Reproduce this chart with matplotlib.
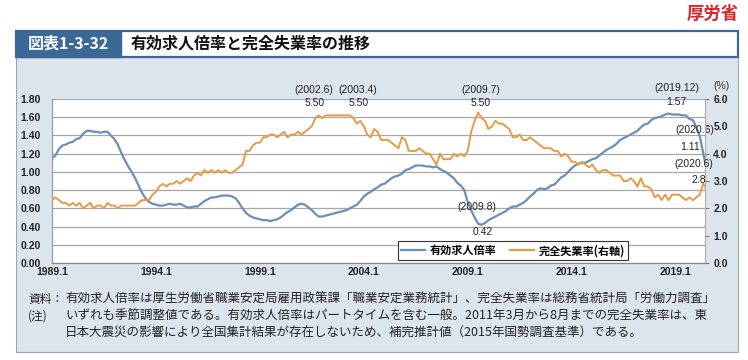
import matplotlib
matplotlib.use("Agg")
import matplotlib.pyplot as plt
from matplotlib.patches import Rectangle
from matplotlib.lines import Line2D
import numpy as np

JP = ['Noto Sans CJK JP', 'DejaVu Sans']
NUM = ['Liberation Sans', 'DejaVu Sans']

# ---------------- data (bi-monthly: Jan, Mar, May, Jul, Sep, Nov; 2020: Jan, Mar, May, Jun) ----
start_year = 1989
month_index = [i * 2 for i in range(187)] + [374, 376, 377]   # months since 1989.1

job_ratio = [
    1.15, 1.18, 1.25, 1.29, 1.30, 1.32,   # 1989
    1.33, 1.36, 1.37, 1.42, 1.45, 1.45,   # 1990
    1.44, 1.44, 1.43, 1.44, 1.44, 1.40,   # 1991
    1.36, 1.30, 1.21, 1.13, 1.06, 1.00,   # 1992
    0.93, 0.85, 0.77, 0.71, 0.67, 0.65,   # 1993
    0.64, 0.63, 0.63, 0.64, 0.65, 0.64,   # 1994
    0.64, 0.65, 0.63, 0.61, 0.61, 0.62,   # 1995
    0.62, 0.65, 0.68, 0.70, 0.72, 0.72,   # 1996
    0.73, 0.74, 0.74, 0.74, 0.73, 0.71,   # 1997
    0.66, 0.60, 0.55, 0.52, 0.50, 0.49,   # 1998
    0.48, 0.47, 0.47, 0.46, 0.47, 0.48,   # 1999
    0.50, 0.53, 0.56, 0.58, 0.61, 0.64,   # 2000
    0.65, 0.64, 0.61, 0.58, 0.54, 0.51,   # 2001
    0.51, 0.52, 0.53, 0.54, 0.55, 0.56,   # 2002
    0.57, 0.58, 0.60, 0.62, 0.64, 0.68,   # 2003
    0.73, 0.76, 0.78, 0.81, 0.83, 0.86,   # 2004
    0.87, 0.90, 0.93, 0.95, 0.96, 0.98,   # 2005
    1.02, 1.03, 1.05, 1.07, 1.07, 1.07,   # 2006
    1.06, 1.06, 1.05, 1.06, 1.03, 1.01,   # 2007
    0.99, 0.96, 0.93, 0.88, 0.85, 0.80,   # 2008
    0.67, 0.58, 0.50, 0.43, 0.42, 0.44,   # 2009
    0.47, 0.49, 0.51, 0.53, 0.55, 0.57,   # 2010
    0.60, 0.62, 0.62, 0.64, 0.66, 0.69,   # 2011
    0.73, 0.76, 0.80, 0.82, 0.81, 0.82,   # 2012
    0.85, 0.86, 0.90, 0.94, 0.96, 1.00,   # 2013
    1.04, 1.07, 1.09, 1.10, 1.10, 1.12,   # 2014
    1.14, 1.15, 1.18, 1.21, 1.24, 1.26,   # 2015
    1.28, 1.31, 1.35, 1.37, 1.39, 1.41,   # 2016
    1.43, 1.45, 1.49, 1.52, 1.53, 1.57,   # 2017
    1.59, 1.60, 1.61, 1.63, 1.64, 1.63,   # 2018
    1.63, 1.63, 1.62, 1.62, 1.58, 1.57,   # 2019
    1.49, 1.39, 1.20, 1.11,               # 2020
]

unemployment = [
    2.3, 2.4, 2.3, 2.2, 2.2, 2.1,   # 1989
    2.2, 2.1, 2.2, 2.0, 2.1, 2.2,   # 1990
    2.0, 2.1, 2.1, 2.0, 2.2, 2.1,   # 1991
    2.1, 2.0, 2.1, 2.1, 2.1, 2.1,   # 1992
    2.1, 2.2, 2.3, 2.3, 2.3, 2.5,   # 1993
    2.6, 2.8, 2.9, 2.8, 2.9, 2.9,   # 1994
    3.0, 2.9, 3.0, 3.1, 3.0, 3.2,   # 1995
    3.3, 3.2, 3.4, 3.3, 3.4, 3.3,   # 1996
    3.4, 3.3, 3.4, 3.3, 3.3, 3.4,   # 1997
    3.5, 3.6, 4.1, 4.1, 4.3, 4.4,   # 1998
    4.4, 4.6, 4.6, 4.7, 4.7, 4.6,   # 1999
    4.7, 4.8, 4.6, 4.7, 4.7, 4.8,   # 2000
    4.7, 4.8, 4.9, 5.0, 5.3, 5.4,   # 2001
    5.3, 5.4, 5.4, 5.4, 5.4, 5.4,   # 2002
    5.4, 5.4, 5.4, 5.3, 5.1, 5.2,   # 2003
    5.0, 4.7, 4.6, 4.9, 4.8, 4.5,   # 2004
    4.5, 4.5, 4.4, 4.3, 4.2, 4.6,   # 2005
    4.5, 4.1, 4.1, 4.1, 4.2, 4.1,   # 2006
    4.0, 4.0, 3.8, 3.6, 4.0, 3.8,   # 2007
    3.8, 3.8, 4.0, 3.9, 4.0, 3.9,   # 2008
    4.1, 4.8, 5.2, 5.5, 5.3, 5.2,   # 2009
    4.9, 5.0, 5.2, 5.1, 5.1, 5.0,   # 2010
    4.9, 4.6, 4.6, 4.7, 4.5, 4.5,   # 2011
    4.6, 4.5, 4.4, 4.3, 4.2, 4.2,   # 2012
    4.2, 4.1, 4.1, 3.9, 4.0, 3.9,   # 2013
    3.7, 3.7, 3.6, 3.7, 3.6, 3.5,   # 2014
    3.6, 3.4, 3.3, 3.4, 3.4, 3.3,   # 2015
    3.2, 3.2, 3.2, 3.0, 3.0, 3.1,   # 2016
    3.0, 2.8, 3.1, 2.8, 2.8, 2.7,   # 2017
    2.4, 2.5, 2.3, 2.5, 2.3, 2.5,   # 2018
    2.5, 2.5, 2.4, 2.3, 2.4, 2.3,   # 2019
    2.4, 2.5, 2.9, 2.8,             # 2020
]

x_tick_labels = ["1989.1", "1994.1", "1999.1", "2004.1", "2009.1", "2014.1", "2019.1"]
left_ticks = [0.0, 0.2, 0.4, 0.6, 0.8, 1.0, 1.2, 1.4, 1.6, 1.8]
right_ticks = [0.0, 1.0, 2.0, 3.0, 4.0, 5.0, 6.0]

# annotations: (year, month, value, date label, value label, axis)
annotations = [
    (2002, 6, 5.5, "(2002.6)", "5.50", "right"),
    (2003, 4, 5.5, "(2003.4)", "5.50", "right"),
    (2009, 7, 5.5, "(2009.7)", "5.50", "right"),
    (2009, 8, 0.42, "(2009.8)", "0.42", "left"),
    (2019, 12, 1.57, "(2019.12)", "1.57", "left"),
    (2020, 6, 1.11, "(2020.6)", "1.11", "left"),
    (2020, 6, 2.8, "(2020.6)", "2.8", "right"),
]
# pixel offsets (date label, value label) for each annotation
ann_offsets = [
    ((-17, 18), (-16, 5)),
    ((10, 18), (10, 5)),
    ((3, 18), (3, 5)),
    ((-3, 13), (3, -2)),
    ((-18, 27), (-18, 13)),
    ((-10, 27), (-15, 10)),
    ((-11, 17), (-6, 1)),
]

title_label = "図表1-3-32"
title_text = "有効求人倍率と完全失業率の推移"
source_tag = "厚労省"
series_names = ["有効求人倍率", "完全失業率(右軸)"]
notes = [
    ("資料：", "有効求人倍率は厚生労働省職業安定局雇用政策課「職業安定業務統計」、完全失業率は総務省統計局「労働力調査」"),
    ("(注)", "いずれも季節調整値である。有効求人倍率はパートタイムを含む一般。2011年3月から8月までの完全失業率は、東"),
    ("", "日本大震災の影響により全国集計結果が存在しないため、補完推計値（2015年国勢調査基準）である。"),
]

BLUE = "#6a8fb8"
ORANGE = "#e89a45"
PANEL = "#dce4ed"
DARK = "#3c6898"

W, H = 748, 360
fig = plt.figure(figsize=(W / 100, H / 100), dpi=100)
fig.patch.set_facecolor("white")


def fx(px):
    return px / W


def fy(py):
    return 1 - py / H


# panel background
fig.patches.append(Rectangle((fx(16), fy(352)), fx(738) - fx(16), fy(57) - fy(352),
                             transform=fig.transFigure, facecolor=PANEL,
                             edgecolor="#9aa6b4", lw=0.8, zorder=0))
# title bar
fig.patches.append(Rectangle((fx(16), fy(57)), fx(738) - fx(16), fy(31) - fy(57),
                             transform=fig.transFigure, facecolor="white",
                             edgecolor=DARK, lw=1.6, zorder=1))
fig.patches.append(Rectangle((fx(16), fy(57)), fx(121) - fx(16), fy(31) - fy(57),
                             transform=fig.transFigure, facecolor=DARK,
                             edgecolor=DARK, lw=1.0, zorder=2))
fig.text(fx(68), fy(44), title_label, color="white", fontsize=11.5, fontweight="bold",
         family=JP, ha="center", va="center", zorder=3)
fig.text(fx(131), fy(44), title_text, color="#111111", fontsize=11.5, fontweight="bold",
         family=JP, ha="left", va="center", zorder=3)
fig.text(fx(739), fy(14), source_tag, color="#d9262b", fontsize=12.5, fontweight="bold",
         family=JP, ha="right", va="center")

# axes
ax = fig.add_axes([fx(52), fy(263), fx(705) - fx(52), fy(99) - fy(263)])
ax.set_facecolor("white")
ax.set_zorder(2)
ax2 = ax.twinx()
ax2.set_zorder(3)

ax.plot(month_index, job_ratio, color=BLUE, lw=1.6, zorder=3, solid_joinstyle="round")
ax2.plot(month_index, unemployment, color=ORANGE, lw=1.4, zorder=3, solid_joinstyle="round")

ax.set_xlim(0, 377)
ax.set_ylim(0, 1.8)
ax2.set_ylim(0, 6.0)

ax.set_yticks(left_ticks)
ax.set_yticklabels([f"{v:.2f}" for v in left_ticks], family=NUM, fontweight="bold",
                   fontsize=7.5, color="#222222")
ax2.set_yticks(right_ticks)
ax2.set_yticklabels([f"{v:.1f}" for v in right_ticks], family=NUM, fontweight="bold",
                    fontsize=7.5, color="#222222")
xt = [i * 60 for i in range(len(x_tick_labels))]
ax.set_xticks(xt)
ax.set_xticklabels(x_tick_labels, family=NUM, fontweight="bold", fontsize=7.5, color="#222222")

ax.grid(axis="y", color="#a8a8a8", lw=0.9)
ax.set_axisbelow(True)
ax.tick_params(axis="y", length=0, pad=8)
ax.tick_params(axis="x", length=0, pad=3)
ax2.tick_params(axis="y", length=3, direction="out", color="#777777", pad=3, width=0.8)
for a in (ax, ax2):
    a.spines["top"].set_visible(False)
    a.spines["left"].set_color("#9a9a9a")
    a.spines["bottom"].set_color("#8a8a8a")
    a.spines["right"].set_color("#b0b0b0")
    a.spines["left"].set_linewidth(0.8)
    a.spines["right"].set_linewidth(0.8)

# annotations
for (yr, mo, val, dlab, vlab, side), (o1, o2) in zip(annotations, ann_offsets):
    xm = (yr - start_year) * 12 + (mo - 1)
    target = ax2 if side == "right" else ax
    for lab, off in ((dlab, o1), (vlab, o2)):
        target.annotate(lab, xy=(xm, val), xytext=off, textcoords="offset pixels",
                        ha="center", va="bottom" if off[1] > 0 else "top",
                        fontsize=7.5, family=NUM, color="#222222", zorder=6)

fig.text(fx(722), fy(86), "(%)", fontsize=7.5, family=NUM, color="#333333",
         ha="center", va="center")

# legend
handles = [Line2D([], [], color=BLUE, lw=1.6), Line2D([], [], color=ORANGE, lw=1.6)]
leg = ax2.legend(handles, series_names, loc="lower right",
                 bbox_to_anchor=((628 - 52) / 653, (263 - 260) / 164),
                 ncol=2, frameon=True, fancybox=False, framealpha=1,
                 edgecolor="#333333", prop={"family": JP, "weight": "bold", "size": 8},
                 handlelength=2.2, handletextpad=0.4, columnspacing=1.2,
                 borderpad=0.25, borderaxespad=0)
leg.get_frame().set_linewidth(0.8)

# notes
note_y = [299, 316, 333]
for (head, body), yy in zip(notes, note_y):
    if head:
        fig.text(fx(28), fy(yy), head, fontsize=8.5, family=JP, color="#222222",
                 ha="left", va="center")
    fig.text(fx(65), fy(yy), body, fontsize=9, family=JP, color="#222222",
             ha="left", va="center")

fig.savefig("out.png", dpi=100)
